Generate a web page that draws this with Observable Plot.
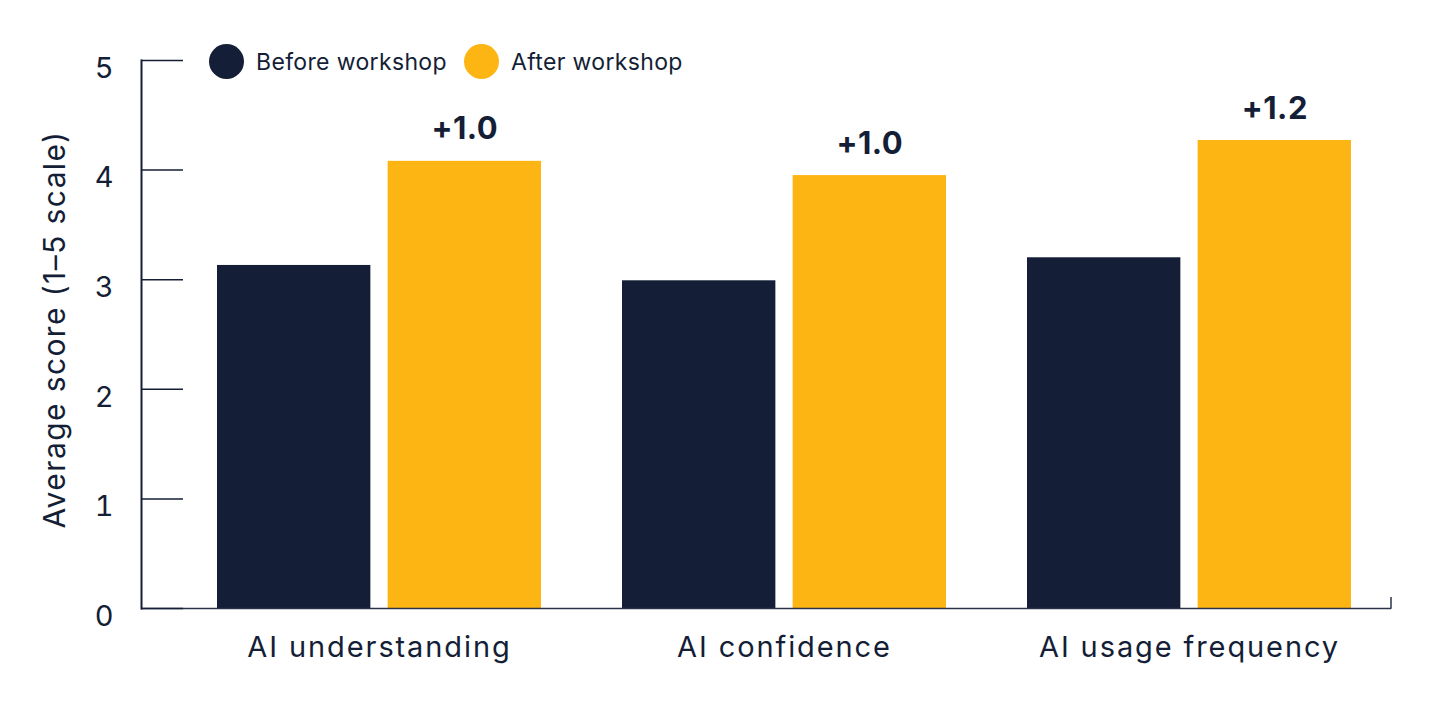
<!DOCTYPE html>
<html><head><meta charset="utf-8">
<script src="https://cdn.jsdelivr.net/npm/d3@7"></script>
<script src="https://cdn.jsdelivr.net/npm/@observablehq/plot@0.6"></script>
<style>
body{margin:0;background:#fff;font-family:Inter,sans-serif;}
#wrap{position:relative;width:1439px;height:706px;}
#legend{position:absolute;left:209px;top:44px;height:35px;display:flex;align-items:center;font-size:23px;letter-spacing:0.35px;color:#141e36;white-space:nowrap;}
.sw{width:35px;height:35px;border-radius:50%;display:inline-block;margin-right:12px;}
.item{display:flex;align-items:center;margin-right:17px;}
g[aria-label="x-axis tick label"] text{letter-spacing:1.9px;}
g.ylab text{letter-spacing:1.4px;}
g.chg text{letter-spacing:0.5px;}
</style></head><body><div id="wrap"><div id="chart"></div><div id="legend"></div></div>
<script>
const categories = ["AI understanding", "AI confidence", "AI usage frequency"];
const seriesNames = ["Before workshop", "After workshop"];
const beforeValues = [3.13, 2.99, 3.20];
const afterValues = [4.08, 3.95, 4.27];
const changeLabels = ["+1.0", "+1.0", "+1.2"];
const yTicks = [0, 1, 2, 3, 4, 5];
const yTitle = "Average score (1–5 scale)";
const colors = ["#141e36", "#fdb514"];

const W = 1439, H = 706, mL = 141, mR = 48, mT = 60, mB = 98;
const xRange = [176, 1392], padIn = 0.2, padOut = 0.1, innerGap = 17;
const band = d3.scaleBand().domain(categories).range(xRange).paddingInner(padIn).paddingOuter(padOut);
const half = (band.bandwidth() + innerGap) / 2;

const beforeRows = categories.map((c, i) => ({category: c, value: beforeValues[i]}));
const afterRows = categories.map((c, i) => ({category: c, value: afterValues[i], label: changeLabels[i]}));

const plot = Plot.plot({
  width: W, height: H, marginLeft: mL, marginRight: mR, marginTop: mT, marginBottom: mB,
  style: {fontFamily: "Inter, sans-serif", color: "#141e36", background: "#fff", overflow: "visible"},
  x: {domain: categories, range: xRange, paddingInner: padIn, paddingOuter: padOut, label: null},
  y: {domain: [0, 5], label: null},
  marks: [
    Plot.barY(beforeRows, {x: "category", y: "value", fill: colors[0], insetRight: half}),
    Plot.barY(afterRows, {x: "category", y: "value", fill: colors[1], insetLeft: half}),
    Plot.text(afterRows, {x: "category", y: "value", text: "label", dx: half / 2, dy: -22, lineAnchor: "bottom", fontSize: 31, fontWeight: 700, fill: colors[0], className: "chg"}),
    Plot.ruleY([0], {stroke: "#2b3349", strokeWidth: 1.5}),
    Plot.frame({anchor: "left", stroke: colors[0], strokeWidth: 2}),
    Plot.axisY({ticks: yTicks, tickSize: -42, tickFormat: () => "", label: null, stroke: colors[0], strokeWidth: 1.5}),
    Plot.axisY({ticks: yTicks, tickSize: 0, tickPadding: 28, tickFormat: d3.format("d"), fontSize: 29, dy: 8, label: null}),
    Plot.text([yTitle], {frameAnchor: "left", textAnchor: "middle", rotate: -90, dx: -86, dy: -5, fontSize: 30, fill: colors[0], className: "ylab"}),
    Plot.axisX({tickSize: 0, tickPadding: 28, fontSize: 29, label: null})
  ]
});
document.getElementById("chart").appendChild(plot);
// small end tick at the right end of the x axis line
const y0 = plot.scale("y").apply(0);
d3.select(plot).append("line")
  .attr("x1", W - mR).attr("x2", W - mR).attr("y1", y0 + 0.75).attr("y2", y0 - 11)
  .attr("stroke", "#2b3349").attr("stroke-width", 1.5);

const legend = document.getElementById("legend");
seriesNames.forEach((s, i) => {
  const it = document.createElement("div");
  it.className = "item";
  it.innerHTML = `<span class="sw" style="background:${colors[i]}"></span><span>${s}</span>`;
  legend.appendChild(it);
});
</script>
</body></html>
